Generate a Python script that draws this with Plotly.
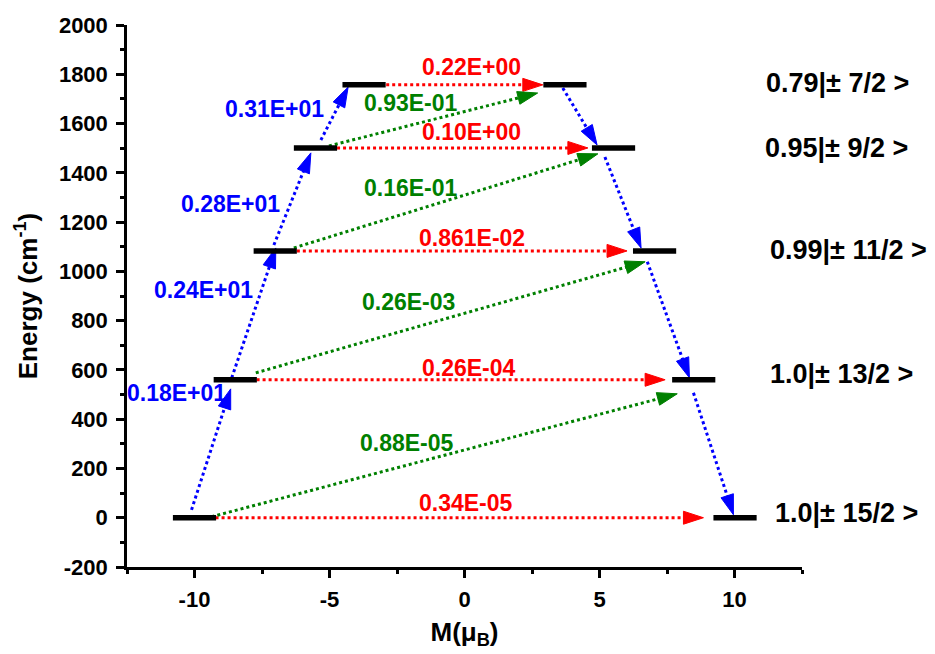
import math
import plotly.graph_objects as go

# ---------------- data ----------------
energies = [0, 560, 1083, 1501, 1757]            # cm-1
m_left = [-10.0, -8.49, -7.01, -5.52, -3.72]     # M (muB), -mJ branch
m_right = [10.02, 8.49, 7.04, 5.52, 3.72]        # M (muB), +mJ branch
bar_half = 0.8
state_labels = ["1.0|± 15/2 >", "1.0|± 13/2 >", "0.99|± 11/2 >",
                "0.95|± 9/2 >", "0.79|± 7/2 >"]

# blue: Orbach / Raman pathway
blue_x0 = [-10.11, -8.62, -7.06, -5.32, 3.64, 5.20, 6.77, 8.48]
blue_y0 = [32, 568, 1107, 1533, 1744, 1464, 1039, 507]
blue_x1 = [-8.66, -6.99, -5.69, -4.31, 4.91, 6.54, 8.33, 9.96]
blue_y1 = [523, 1095, 1481, 1748, 1513, 1095, 568, 12]
blue_rates = ["0.18E+01", "0.24E+01", "0.28E+01", "0.31E+01"]

# red: QTM within each doublet
red_x0 = [-9.22, -7.70, -6.21, -4.72, -2.90]
red_x1 = [8.85, 7.43, 6.02, 4.57, 2.90]
red_rates = ["0.34E-05", "0.26E-04", "0.861E-02", "0.10E+00", "0.22E+00"]

# green: TA-QTM / Orbach to the next doublet
green_x0 = [-9.37, -7.73, -6.32, -5.02]
green_y0 = [4, 588, 1095, 1509]
green_x1 = [7.88, 6.69, 4.94, 2.71]
green_y1 = [503, 1039, 1477, 1724]
green_rates = ["0.88E-05", "0.26E-03", "0.16E-01", "0.93E-01"]

x_ticks = [-10, -5, 0, 5, 10]
x_ticktext = ["-10", "-5", "0", "5", "10"]
y_ticks = [-200, 0, 200, 400, 600, 800, 1000, 1200, 1400, 1600, 1800, 2000]
y_ticktext = [str(v) for v in y_ticks]

# label anchors (layout)
red_lab_x = [0.07, 0.15, 0.26, 0.26, 0.26]
red_lab_y = [61, 609, 1136, 1564, 1828]
green_lab_x = [-2.12, -2.08, -1.97, -1.97]
green_lab_y = [304, 876, 1339, 1684]
blue_lab_x = [-10.67, -9.67, -8.66, -7.03]
blue_lab_y = [507, 925, 1274, 1659]
state_lab_x = [14.13, 13.98, 14.24, 13.79, 13.83]
state_lab_y = [20, 584, 1087, 1501, 1765]

# ---------------- layout geometry ----------------
W, H = 935, 654
ML, MR, MT, MB = 119, 141, 17, 95
XR = [-12.5, 12.5]
YR = [-200, 2000]
SX = (W - ML - MR) / (XR[1] - XR[0])   # px per x unit
SY = (H - MT - MB) / (YR[1] - YR[0])   # px per y unit

BLUE = "rgb(0,0,255)"
RED = "rgb(255,0,0)"
GREEN = "rgb(0,128,0)"
FONT = "Liberation Sans, Arial, sans-serif"

HEAD_L, HEAD_W = 20, 6.5


def arrow_parts(x0, y0, x1, y1):
    dx = (x1 - x0) * SX
    dy = (y1 - y0) * SY
    d = math.hypot(dx, dy)
    ux, uy = dx / d, dy / d
    bcx = x1 - HEAD_L * ux / SX
    bcy = y1 - HEAD_L * uy / SY
    nx, ny = -uy, ux
    tri_x = [x1, bcx + HEAD_W * nx / SX, bcx - HEAD_W * nx / SX, x1]
    tri_y = [y1, bcy + HEAD_W * ny / SY, bcy - HEAD_W * ny / SY, y1]
    lex = x1 - 0.7 * HEAD_L * ux / SX
    ley = y1 - 0.7 * HEAD_L * uy / SY
    return [x0, lex], [y0, ley], tri_x, tri_y


fig = go.Figure()


def add_arrows(xs0, ys0, xs1, ys1, color):
    lx, ly, hx, hy = [], [], [], []
    for a, b, c, d in zip(xs0, ys0, xs1, ys1):
        px, py, tx, ty = arrow_parts(a, b, c, d)
        lx += px + [None]
        ly += py + [None]
        hx += tx + [None]
        hy += ty + [None]
    fig.add_trace(go.Scatter(x=lx, y=ly, mode="lines",
                             line=dict(color=color, width=3, dash="3px,3px"),
                             hoverinfo="skip", showlegend=False))
    fig.add_trace(go.Scatter(x=hx, y=hy, mode="lines", fill="toself",
                             fillcolor=color, line=dict(color=color, width=1),
                             hoverinfo="skip", showlegend=False))


add_arrows(red_x0, energies, red_x1, energies, RED)
add_arrows(green_x0, green_y0, green_x1, green_y1, GREEN)
add_arrows(blue_x0, blue_y0, blue_x1, blue_y1, BLUE)

# energy level bars
bx, by = [], []
for e, ml, mr in zip(energies, m_left, m_right):
    bx += [ml - bar_half, ml + bar_half, None, mr - bar_half, mr + bar_half, None]
    by += [e, e, None, e, e, None]
fig.add_trace(go.Scatter(x=bx, y=by, mode="lines",
                         line=dict(color="black", width=5.5),
                         hoverinfo="skip", showlegend=False))

ann = []


def add_labels(xs, ys, texts, color, size, paper_x=False):
    for x, y, t in zip(xs, ys, texts):
        if paper_x:
            xr, xv = "paper", (x - XR[0]) / (XR[1] - XR[0])
        else:
            xr, xv = "x", x
        ann.append(dict(x=xv, y=y, xref=xr, yref="y", text=t, showarrow=False,
                        xanchor="center", yanchor="middle",
                        font=dict(family=FONT, size=size, color=color, weight="bold")))


add_labels(red_lab_x, red_lab_y, red_rates, RED, 23)
add_labels(green_lab_x, green_lab_y, green_rates, GREEN, 23)
add_labels(blue_lab_x, blue_lab_y, blue_rates, BLUE, 23)
add_labels(state_lab_x, state_lab_y, state_labels, "black", 27, paper_x=True)

axis_common = dict(showline=True, linecolor="black", linewidth=2.5,
                   ticks="outside", ticklen=8, tickwidth=2.5, tickcolor="black",
                   showgrid=False, zeroline=False, mirror=False,
                   tickfont=dict(family=FONT, size=22, color="black", weight="bold"))

fig.update_layout(
    width=W, height=H,
    margin=dict(l=ML, r=MR, t=MT, b=MB, autoexpand=False),
    plot_bgcolor="white", paper_bgcolor="white",
    hovermode=False,
    annotations=ann,
    xaxis=dict(range=XR, tickmode="array", tickvals=x_ticks, ticktext=x_ticktext,
               minor=dict(dtick=2.5, tick0=0, ticks="outside", ticklen=4,
                          tickwidth=2.5, tickcolor="black"),
               ticklabelstandoff=3,
               title=dict(text="M(μ<sub>B</sub>)", standoff=12,
                          font=dict(family=FONT, size=26, color="black", weight="bold")),
               **axis_common),
    yaxis=dict(range=YR, tickmode="array", tickvals=y_ticks, ticktext=y_ticktext,
               minor=dict(dtick=100, tick0=0, ticks="outside", ticklen=4,
                          tickwidth=2.5, tickcolor="black"),
               ticklabelstandoff=4,
               title=dict(text="Energy (cm<sup>-1</sup>)", standoff=14,
                          font=dict(family=FONT, size=26, color="black", weight="bold")),
               **axis_common),
)

fig.write_html("out.html")
